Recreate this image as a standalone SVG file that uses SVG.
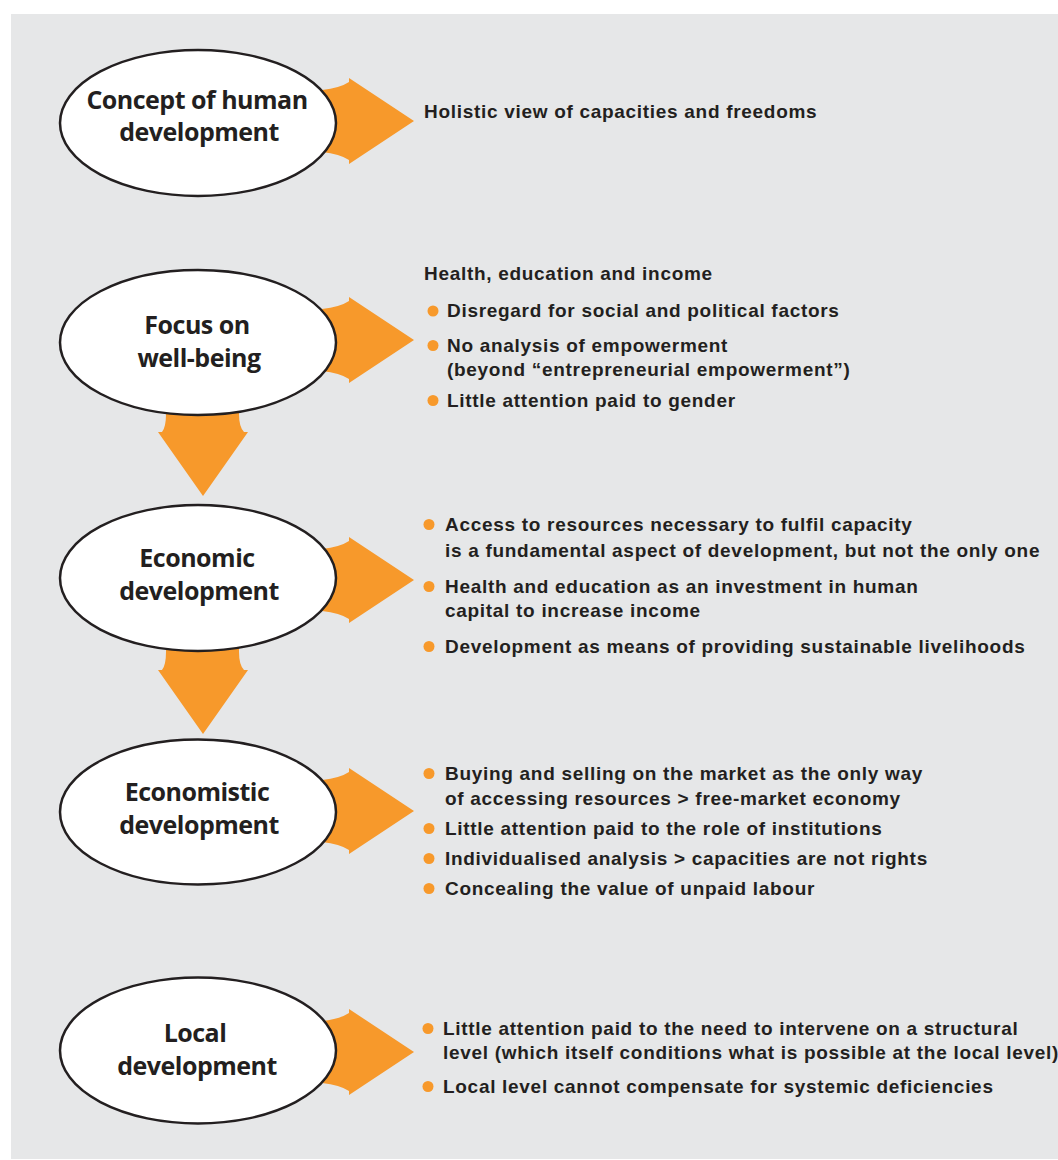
<svg xmlns="http://www.w3.org/2000/svg" xmlns:xlink="http://www.w3.org/1999/xlink" width="1058" height="1160" viewBox="0 0 1058 1160">
  <style>
    .panel { fill: #e6e7e8; }
    .arrow { fill: #f7992b; }
    .oval { fill: #ffffff; stroke: #231f20; stroke-width: 2.5; }
    .title { font-family: "Open Sans", "Liberation Sans", sans-serif; font-weight: 700; font-size: 25px; letter-spacing: -0.5px; fill: #231f20; text-anchor: middle; }
    .note { font-family: "Liberation Sans", Arial, sans-serif; font-weight: bold; font-size: 19px; letter-spacing: 0.7px; fill: #231f20; }
    .dot { fill: #f7992b; }
  </style>
  <defs>
    <!-- arrow pointing right, centred on y=0 -->
    <path id="arrowRight" d="M 300 -30 L 322 -31 Q 340 -33 349 -39 L 349 -43 L 414 0 L 349 43 L 349 39 Q 340 33 322 31 L 300 30 Z"/>
    <!-- arrow pointing down, head base on y=0 -->
    <path id="arrowDown" d="M -37 -30 L -37 -18 Q -37 -5 -41 0 L -45 0 L 0 64 L 45 0 L 41 0 Q 36 -5 36 -18 L 36 -30 Z"/>
  </defs>

  <rect class="panel" x="11" y="14" width="1047" height="1145"/>

  <g id="connectors">
    <use xlink:href="#arrowRight" class="arrow" transform="translate(0,121)"/>
    <use xlink:href="#arrowRight" class="arrow" transform="translate(0,340)"/>
    <use xlink:href="#arrowRight" class="arrow" transform="translate(0,580)"/>
    <use xlink:href="#arrowRight" class="arrow" transform="translate(0,811)"/>
    <use xlink:href="#arrowRight" class="arrow" transform="translate(0,1052)"/>
    <use xlink:href="#arrowDown" class="arrow" transform="translate(203,432)"/>
    <use xlink:href="#arrowDown" class="arrow" transform="translate(203,670)"/>
  </g>

  <g id="node-human-development">
    <ellipse class="oval" cx="198" cy="123" rx="138" ry="73"/>
    <text class="title" x="197" y="109">Concept of human</text>
    <text class="title" x="199" y="141">development</text>
  </g>

  <g id="node-well-being">
    <ellipse class="oval" cx="198" cy="342.5" rx="138" ry="72.5"/>
    <text class="title" x="197" y="334">Focus on</text>
    <text class="title" x="199" y="367">well-being</text>
  </g>

  <g id="node-economic">
    <ellipse class="oval" cx="198" cy="578" rx="138" ry="73"/>
    <text class="title" x="197" y="567">Economic</text>
    <text class="title" x="199" y="600">development</text>
  </g>

  <g id="node-economistic">
    <ellipse class="oval" cx="198" cy="812" rx="138" ry="72.5"/>
    <text class="title" x="197" y="801">Economistic</text>
    <text class="title" x="199" y="834">development</text>
  </g>

  <g id="node-local">
    <ellipse class="oval" cx="198" cy="1050.5" rx="138" ry="73"/>
    <text class="title" x="195" y="1042">Local</text>
    <text class="title" x="197" y="1075">development</text>
  </g>

  <g id="notes-human-development">
    <text class="note" x="424" y="118">Holistic view of capacities and freedoms</text>
  </g>

  <g id="notes-well-being">
    <text class="note" x="424" y="280">Health, education and income</text>
    <circle class="dot" cx="433" cy="311" r="5.5"/>
    <text class="note" x="447" y="317">Disregard for social and political factors</text>
    <circle class="dot" cx="433" cy="345.5" r="5.5"/>
    <text class="note" x="447" y="352">No analysis of empowerment</text>
    <text class="note" x="447" y="376">(beyond “entrepreneurial empowerment”)</text>
    <circle class="dot" cx="433" cy="400.5" r="5.5"/>
    <text class="note" x="447" y="407">Little attention paid to gender</text>
  </g>

  <g id="notes-economic">
    <circle class="dot" cx="429" cy="524.5" r="5.5"/>
    <text class="note" x="445" y="531">Access to resources necessary to fulfil capacity</text>
    <text class="note" x="445" y="557">is a fundamental aspect of development, but not the only one</text>
    <circle class="dot" cx="429" cy="586.5" r="5.5"/>
    <text class="note" x="445" y="593">Health and education as an investment in human</text>
    <text class="note" x="445" y="617">capital to increase income</text>
    <circle class="dot" cx="429" cy="646.5" r="5.5"/>
    <text class="note" x="445" y="653">Development as means of providing sustainable livelihoods</text>
  </g>

  <g id="notes-economistic">
    <circle class="dot" cx="429" cy="773.5" r="5.5"/>
    <text class="note" x="445" y="780">Buying and selling on the market as the only way</text>
    <text class="note" x="445" y="805">of accessing resources &gt; free-market economy</text>
    <circle class="dot" cx="429" cy="828.5" r="5.5"/>
    <text class="note" x="445" y="835">Little attention paid to the role of institutions</text>
    <circle class="dot" cx="429" cy="858.5" r="5.5"/>
    <text class="note" x="445" y="865">Individualised analysis &gt; capacities are not rights</text>
    <circle class="dot" cx="429" cy="888.5" r="5.5"/>
    <text class="note" x="445" y="895">Concealing the value of unpaid labour</text>
  </g>

  <g id="notes-local">
    <circle class="dot" cx="428" cy="1028.5" r="5.5"/>
    <text class="note" x="443" y="1035">Little attention paid to the need to intervene on a structural</text>
    <text class="note" x="443" y="1059">level (which itself conditions what is possible at the local level)</text>
    <circle class="dot" cx="428" cy="1086.5" r="5.5"/>
    <text class="note" x="443" y="1093">Local level cannot compensate for systemic deficiencies</text>
  </g>
</svg>
